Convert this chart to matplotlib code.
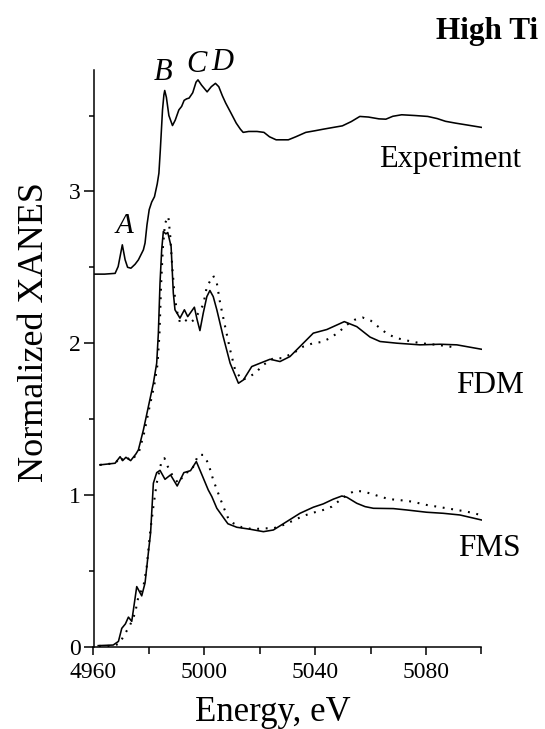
import matplotlib
matplotlib.use("Agg")
import matplotlib.pyplot as plt

plt.rcParams['font.family'] = ['Liberation Serif', 'DejaVu Serif']

# ---------------- data ----------------
exp_e = [4960.5, 4964, 4967.8, 4968.9, 4970.4, 4971.4, 4972.3, 4973.5, 4975, 4976.2, 4978, 4978.6,
         4979.3, 4980.1, 4981, 4982, 4983, 4983.6, 4984.1, 4984.9, 4985.4, 4985.7, 4986.3, 4987.2,
         4988.5, 4989.5, 4990.8, 4991.8, 4992.7, 4993.6, 4994.5, 4995.8, 4997.0, 4997.7, 4999,
         5001.0, 5002.5, 5004, 5005.2, 5006.5, 5007.7, 5009.5, 5011.5, 5013, 5014, 5016, 5019,
         5021.5, 5023.5, 5025.9, 5030.3, 5033, 5036.6, 5040, 5042.9, 5046, 5049.8, 5053, 5056.1,
         5059.2, 5063, 5065.5, 5068, 5071.2, 5076, 5080.6, 5084, 5087, 5090.6, 5095, 5100]
exp_v = [2.455, 2.455, 2.46, 2.505, 2.648, 2.55, 2.50, 2.494, 2.52, 2.549, 2.615, 2.66,
         2.78, 2.88, 2.93, 2.965, 3.05, 3.12, 3.27, 3.537, 3.636, 3.665, 3.62, 3.50,
         3.434, 3.47, 3.537, 3.56, 3.60, 3.61, 3.615, 3.65, 3.72, 3.735, 3.70,
         3.656, 3.69, 3.712, 3.69, 3.63, 3.582, 3.52, 3.45, 3.41, 3.389, 3.395, 3.395,
         3.389, 3.36, 3.34, 3.34, 3.36, 3.389, 3.40, 3.41, 3.42, 3.432, 3.46, 3.494,
         3.49, 3.478, 3.476, 3.495, 3.505, 3.50, 3.494, 3.48, 3.462, 3.45, 3.437, 3.422]

fdm_e = [4962.3, 4967.8, 4969.6, 4970.5, 4971.7, 4973.4, 4975.3, 4976.2, 4978.0, 4979.8, 4981.6,
         4982.8, 4983.4, 4984.0, 4984.6, 4985.2, 4986.1, 4986.8, 4988.0, 4988.8, 4989.4, 4991.2,
         4992.8, 4994.0, 4996.4, 4997.4, 4998.4, 4999.6, 5000.9, 5002.0, 5003.2, 5004.5, 5006.8,
         5009.3, 5012.3, 5014.1, 5017.1, 5020.1, 5023.7, 5027.3, 5030.9, 5034.5, 5039.3, 5044.2,
         5050.5, 5055.0, 5059.8, 5063.4, 5069.4, 5077.8, 5085.0, 5091.1, 5100]
fdm_v = [1.198, 1.209, 1.252, 1.226, 1.248, 1.226, 1.27, 1.297, 1.428, 1.582, 1.736,
         1.868, 2.066, 2.396, 2.615, 2.736, 2.72, 2.729, 2.637, 2.33, 2.22, 2.165,
         2.22, 2.175, 2.237, 2.154, 2.083, 2.198, 2.307, 2.347, 2.307, 2.22, 2.043,
         1.868, 1.736, 1.758, 1.846, 1.868, 1.894, 1.879, 1.912, 1.978, 2.066, 2.09,
         2.142, 2.109, 2.04, 2.011, 2.0, 1.989, 1.993, 1.989, 1.96]

fdm_dot_e = [4962.3, 4967.8, 4969.8, 4970.7, 4971.9, 4973.6, 4975.5, 4976.5, 4978.3, 4980.1, 4981.9,
             4983.1, 4983.8, 4984.4, 4985.0, 4985.8, 4987.0, 4987.7, 4988.4, 4989.2, 4990.0, 4991.2,
             4993.0, 4994.8, 4996.6, 4999.6, 5000.9, 5003.2, 5004.5, 5005.7, 5007.5, 5009.3, 5011.1,
             5013.5, 5015.3, 5018.3, 5021.3, 5024.9, 5027.9, 5032.1, 5035.7, 5039.3, 5042.4, 5045.3,
             5048.3, 5051.4, 5054.2, 5057.1, 5060.0, 5063.1, 5066.0, 5068.9, 5071.8, 5074.9, 5077.8,
             5080.8, 5083.9, 5086.9, 5089.8]
fdm_dot_v = [1.198, 1.209, 1.25, 1.226, 1.248, 1.226, 1.265, 1.29, 1.41, 1.57, 1.72,
             1.86, 2.06, 2.39, 2.62, 2.79, 2.835, 2.703, 2.505, 2.33, 2.22, 2.136,
             2.154, 2.132, 2.16, 2.253, 2.373, 2.444, 2.396, 2.264, 2.109, 1.956, 1.824,
             1.758, 1.769, 1.802, 1.857, 1.901, 1.901, 1.934, 1.978, 2.0, 2.008, 2.033,
             2.07, 2.121, 2.154, 2.169, 2.149, 2.103, 2.061, 2.037, 2.022, 2.011, 2.0,
             1.995, 1.989, 1.982, 1.974]

fms_e = [4961.7, 4967.1, 4969.0, 4970.2, 4971.5, 4972.6, 4973.8, 4975.6, 4977.4, 4978.6, 4979.8,
         4980.6, 4981.6, 4982.8, 4984.0, 4985.8, 4987.8, 4990.2, 4992.6, 4995.0, 4997.1, 4999.0,
         5001.4, 5002.7, 5004.5, 5007.5, 5008.5, 5011.7, 5016.5, 5021.3, 5024.9, 5029.7, 5034.5,
         5039.3, 5042.9, 5046.5, 5049.6, 5051.4, 5055.0, 5058.0, 5061.0, 5068.2, 5073.0, 5080.2,
         5086.2, 5092.2, 5100]
fms_v = [0.007, 0.011, 0.035, 0.121, 0.15, 0.195, 0.167, 0.396, 0.335, 0.42, 0.62,
         0.75, 1.077, 1.147, 1.162, 1.103, 1.132, 1.059, 1.147, 1.16, 1.22, 1.138,
         1.033, 0.989, 0.912, 0.835, 0.81, 0.787, 0.774, 0.758, 0.769, 0.824, 0.879,
         0.919, 0.941, 0.972, 0.993, 0.985, 0.945, 0.923, 0.912, 0.91, 0.901, 0.886,
         0.879, 0.868, 0.835]

fms_dot_e = [4962, 4967, 4969.3, 4971.2, 4973.2, 4975.0, 4976.2, 4978.0, 4979.2, 4980.4, 4981.6,
             4982.8, 4984.4, 4985.6, 4986.8, 4988.4, 4990.6, 4993.0, 4995.4, 4997.8, 4999.6, 5001.4,
             5003.2, 5005.0, 5006.8, 5008.6, 5010.5, 5013.5, 5017.7, 5021.3, 5024.9, 5028.5, 5032.1,
             5035.7, 5039.3, 5042.9, 5046.0, 5049.0, 5051.4, 5054.4, 5057.4, 5060.4, 5063.4, 5066.4,
             5069.4, 5073.0, 5076.6, 5080.2, 5083.9, 5087.5, 5091.1, 5094.7, 5099.7]
fms_dot_v = [0.005, 0.005, 0.02, 0.08, 0.143, 0.22, 0.33, 0.396, 0.527, 0.747, 0.923,
             1.077, 1.209, 1.242, 1.187, 1.132, 1.077, 1.143, 1.16, 1.264, 1.264, 1.209,
             1.099, 1.011, 0.925, 0.846, 0.813, 0.787, 0.774, 0.78, 0.78, 0.802, 0.831,
             0.862, 0.883, 0.901, 0.923, 0.967, 1.0, 1.028, 1.022, 1.007, 0.989, 0.974,
             0.967, 0.962, 0.949, 0.934, 0.923, 0.912, 0.901, 0.89, 0.868]

x_ticks = [4960, 5000, 5040, 5080]
x_minor = [4980, 5020, 5060, 5100]
y_ticks = [0, 1, 2, 3]
y_minor = [0.5, 1.5, 2.5, 3.5]

# ---------------- figure ----------------
W, H = 545, 729
fig = plt.figure(figsize=(W / 100, H / 100), dpi=100)
ax = fig.add_axes([93.5 / W, 1 - 646.7 / H, 388 / W, (646.7 - 70) / H])

lw = 1.15
dot_style = dict(color='black', lw=1.5, linestyle=(0, (0.9, 3.2)), dash_capstyle='butt')
ax.plot(exp_e, exp_v, color='black', lw=lw)
ax.plot(fdm_e, fdm_v, color='black', lw=lw)
ax.plot(fdm_dot_e, fdm_dot_v, **dot_style)
ax.plot(fms_e, fms_v, color='black', lw=lw)
ax.plot(fms_dot_e, fms_dot_v, **dot_style)

ax.set_xlim(4960, 5100)
ax.set_ylim(0, 3.8)
ax.set_xticks(x_ticks)
ax.set_xticks(x_minor, minor=True)
ax.set_yticks(y_ticks)
ax.set_yticks(y_minor, minor=True)
for s in ['top', 'right']:
    ax.spines[s].set_visible(False)
for s in ['left', 'bottom']:
    ax.spines[s].set_linewidth(1.1)

ax.tick_params(axis='x', which='major', direction='out', length=6, width=1.1, pad=5, labelsize=17)
ax.tick_params(axis='x', which='minor', direction='out', length=5, width=1.1)
ax.tick_params(axis='y', which='major', direction='out', length=7, width=1.1, pad=2, labelsize=17)
ax.tick_params(axis='y', which='minor', direction='out', length=3.5, width=1.1)

def px(x, y):
    return x / W, 1 - y / H

fig.text(*px(273, 721), 'Energy, eV', fontsize=25, ha='center', va='baseline')
fig.text(*px(43, 331.7), 'Normalized XANES', fontsize=26, rotation=90,
         rotation_mode='anchor', ha='center', va='baseline')

fig.text(*px(436, 39.5), 'High Ti', fontsize=22.5, fontweight='bold', ha='left', va='baseline')
fig.text(*px(379, 167.5), 'Experiment', fontsize=22, ha='left', va='baseline')
fig.text(*px(456.5, 393), 'FDM', fontsize=22.5, ha='left', va='baseline')
fig.text(*px(458, 556.5), 'FMS', fontsize=22.5, ha='left', va='baseline')

fig.text(*px(124.7, 233), 'A', fontsize=21, style='italic', ha='center', va='baseline')
fig.text(*px(163, 80), 'B', fontsize=22, style='italic', ha='center', va='baseline')
fig.text(*px(196, 71.5), 'C', fontsize=22, style='italic', ha='center', va='baseline')
fig.text(*px(222.5, 70), 'D', fontsize=22, style='italic', ha='center', va='baseline')

fig.savefig('out.png', dpi=100)
